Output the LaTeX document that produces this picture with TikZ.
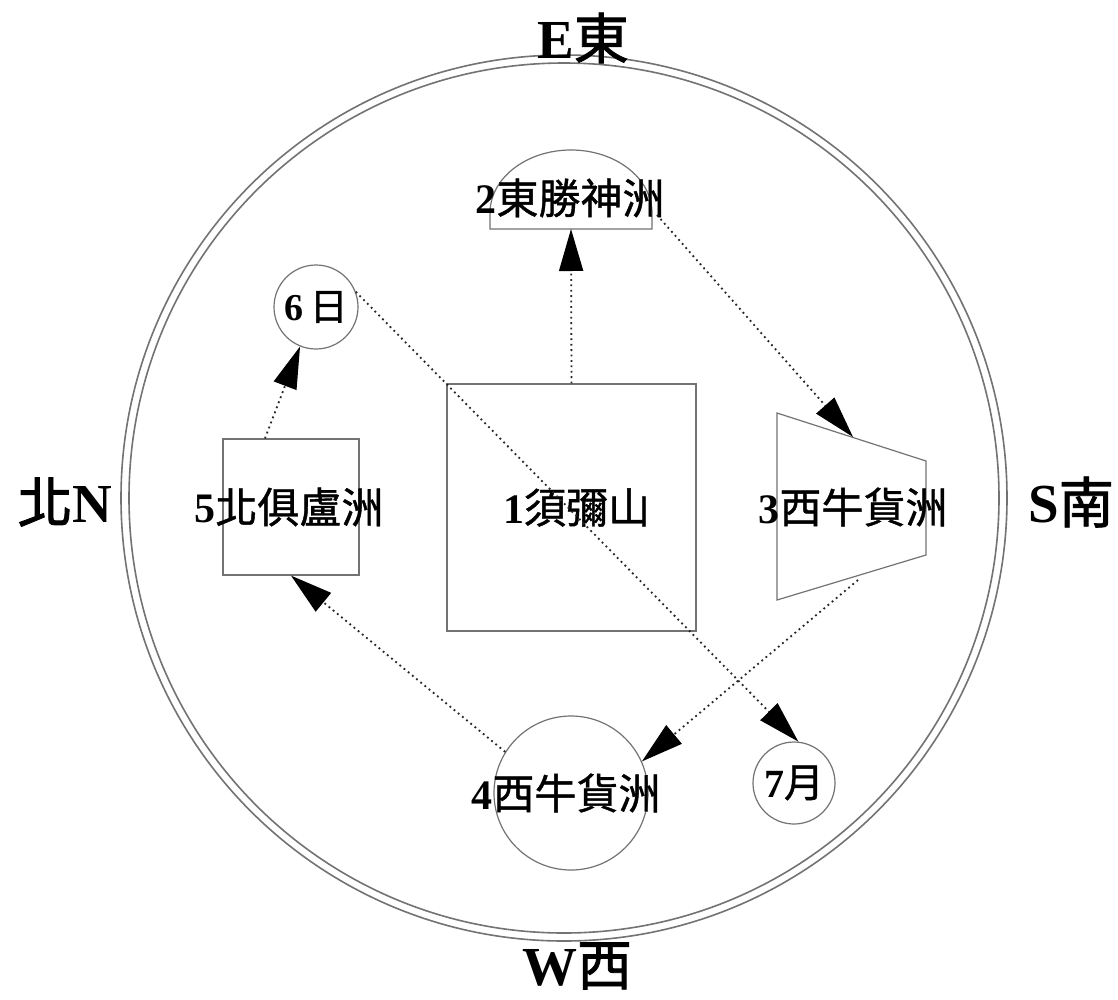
\documentclass[tikz,border=0pt]{standalone}
\usepackage{fontspec}
\setmainfont{Liberation Serif}
\newfontfamily\cjk[FakeBold=1]{Noto Sans CJK TC}
\newfontfamily\cjkd[FakeBold=1.6]{Noto Sans CJK TC}
\usetikzlibrary{arrows.meta}
\definecolor{linegray}{gray}{0.45}
\newcommand\nlbl[2]{\textbf{#1}{\cjk #2}}
\newcommand\dlbl[1]{{\mdseries\cjkd #1}}
\begin{document}
\begin{tikzpicture}[x=1pt,y=-1pt,
  shapebox/.style={draw=linegray, line width=1.2pt, inner sep=0pt, font=\fontsize{42}{44}\selectfont},
  ringline/.style={draw=linegray, line width=1.6pt},
  flow/.style={draw=black!85, line width=1.8pt, dash pattern=on 1.8pt off 3.6pt, -{Triangle[length=42pt,width=24pt,fill=black,color=black]}},
  dirlbl/.style={font=\fontsize{55}{57}\selectfont\bfseries, inner sep=0pt},
  txt/.style={font=\fontsize{42}{44}\selectfont, inner sep=0pt}]
\useasboundingbox (0,0) rectangle (1118,999);
\fill[white] (0,0) rectangle (1118,999);
% outer double ring
\draw[ringline] (564,498) circle[radius=443pt];
\draw[ringline] (564,498) circle[radius=435pt];
% direction labels
\node[dirlbl] (dE) at (583,38) {E\dlbl{東}};
\node[dirlbl] (dN) at (65,502) {\dlbl{北}N};
\node[dirlbl] (dS) at (1071,502) {S\dlbl{南}};
\node[dirlbl] (dW) at (577,966) {W\dlbl{西}};
% 1 square
\node[shapebox, minimum width=249pt, minimum height=247pt] (n1) at (571.5,507.5) {\makebox[0pt]{\hspace{10pt}\nlbl{1}{須彌山}}};
% 2 semicircle
\draw[draw=linegray, line width=1.2pt] (490,229) -- (490,213) arc[start angle=180, end angle=0, x radius=81pt, y radius=63pt] -- (652,229) -- cycle;
\coordinate (c2b) at (571,229);
\coordinate (c2r) at (657,215);
\node[txt] (t2) at (570,198) {\nlbl{2}{東勝神洲}};
% 3 trapezoid
\draw[draw=linegray, line width=1.2pt] (777,413) -- (926,461) -- (926,555) -- (777,600) -- cycle;
\coordinate (t3a) at (853,437);
\coordinate (t3b) at (858,580);
\node[txt] (t3) at (853,507) {\nlbl{3}{西牛貨洲}};
% 4 circle
\node[shapebox, circle, minimum size=154pt] (n4) at (571,793) {\makebox[0pt]{\hspace{-10pt}\raisebox{-4pt}{\nlbl{4}{西牛貨洲}}}};
% 5 square
\node[shapebox, minimum size=136pt] (n5) at (291,507) {\makebox[0pt]{\hspace{-4pt}\nlbl{5}{北俱盧洲}}};
% 6 circle
\node[shapebox, circle, minimum size=84pt, font=\fontsize{38}{40}\selectfont] (n6) at (316,307) {\makebox[0pt]{\nlbl{6}{\,日}}};
% 7 circle
\node[shapebox, circle, minimum size=82pt, font=\fontsize{40}{42}\selectfont] (n7) at (794,783) {\makebox[0pt]{\nlbl{7}{月}}};
% connectors
\draw[flow] (n1.north) -- (c2b);
\draw[flow] (c2r) -- (t3a);
\draw[flow] (t3b) -- (n4.24);
\draw[flow] (n4.148) -- (n5.south);
\draw[flow] ([xshift=-26pt]n5.north) -- (n6.248);
\draw[flow] (n6.21) -- (n7.84);
\end{tikzpicture}
\end{document}
